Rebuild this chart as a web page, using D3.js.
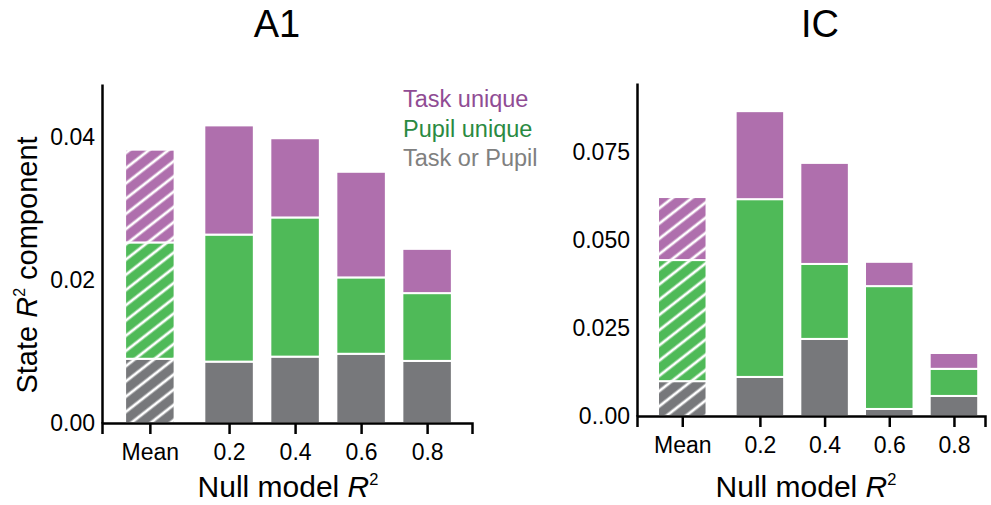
<!DOCTYPE html>
<html>
<head>
<meta charset="utf-8">
<script src="https://cdn.jsdelivr.net/npm/d3@7"></script>
<style>
  body { margin: 0; background: #ffffff; }
  text { font-family: "Liberation Sans", Arial, sans-serif; }
</style>
</head>
<body>
<script>
// categories and their positions on the null model R2 axis
const categories = ["Mean", "0.2", "0.4", "0.6", "0.8"];
const xPositions = [-0.04, 0.2, 0.4, 0.6, 0.8];
const seriesNames = ["Task or Pupil", "Pupil unique", "Task unique"];

// A1 components (bottom to top)
const a1Shared = [0.0090, 0.0086, 0.0093, 0.0097, 0.0087];
const a1Pupil = [0.0163, 0.0178, 0.0195, 0.0107, 0.0095];
const a1Task = [0.0130, 0.0153, 0.0111, 0.0148, 0.0062];

// IC components
const icShared = [0.0099, 0.0111, 0.0219, 0.0020, 0.0057];
const icPupil = [0.0344, 0.0505, 0.0213, 0.0349, 0.0077];
const icTask = [0.0179, 0.0250, 0.0287, 0.0069, 0.0045];

// y tick values and labels
const a1Ticks = [0, 0.02, 0.04];
const a1TickLabels = ["0.00", "0.02", "0.04"];
const icTicks = [0, 0.025, 0.05, 0.075];
const icTickLabels = ["0..00", "0.025", "0.050", "0.075"];

const colors = { "Task or Pupil": "#77787b", "Pupil unique": "#4fba58", "Task unique": "#af6fad" };
const textColors = { "Task or Pupil": "#808080", "Pupil unique": "#2a8a42", "Task unique": "#904c94" };

const width = 991;
const height = 505;
const svg = d3.select("body").append("svg").attr("width", width).attr("height", height);

// hatch patterns for the Mean bars
const defs = svg.append("defs");
seriesNames.forEach((s, i) => {
  const p = defs.append("pattern").attr("id", "hatch" + i).attr("patternUnits", "userSpaceOnUse")
    .attr("width", 12).attr("height", 12).attr("patternTransform", "rotate(-38)");
  p.append("rect").attr("width", 12).attr("height", 12).attr("fill", colors[s]);
  p.append("line").attr("x1", 0).attr("y1", 6).attr("x2", 12).attr("y2", 6)
    .attr("stroke", "#ffffff").attr("stroke-width", 2.8);
});

const sup = (sel, pre, post) => {
  sel.append("tspan").text(pre);
  sel.append("tspan").attr("font-style", "italic").text("R");
  sel.append("tspan").attr("font-size", "0.55em").attr("dy", "-0.75em").text("2");
  if (post) sel.append("tspan").attr("dy", "0.41em").text(post);
}

const drawPanel = (p) => {
  const x = d3.scaleLinear().domain(p.xDomain).range(p.xRange);
  const y = d3.scaleLinear().domain(p.yDomain).range(p.yRange);
  const rows = categories.map((c, i) => ({
    cat: c, pos: xPositions[i],
    "Task or Pupil": p.shared[i], "Pupil unique": p.pupil[i], "Task unique": p.task[i]
  }));
  const stacked = d3.stack().keys(seriesNames)(rows);
  const bw = 0.15;

  const g = svg.append("g");
  g.selectAll(".layer").data(stacked).enter().append("g").attr("class", "layer")
    .each(function(layer, li) {
      d3.select(this).selectAll("rect").data(layer).enter().append("rect")
        .attr("x", d => x(d.data.pos - bw / 2))
        .attr("width", d => x(d.data.pos + bw / 2) - x(d.data.pos - bw / 2))
        .attr("y", d => y(d[1]))
        .attr("height", d => y(d[0]) - y(d[1]))
        .attr("fill", d => d.data.cat === "Mean" ? "url(#hatch" + li + ")" : colors[layer.key])
        .attr("stroke", "#ffffff").attr("stroke-width", 2);
    });

  // axes
  const yAxis = g.append("g").attr("transform", "translate(" + p.xRange[0] + ",0)")
    .call(d3.axisLeft(y).tickValues(p.ticks).tickFormat((d, i) => p.tickLabels[i]).tickSize(0).tickPadding(7));
  const xAxis = g.append("g").attr("transform", "translate(0," + p.yRange[0] + ")")
    .call(d3.axisBottom(x).tickValues(xPositions).tickFormat((d, i) => categories[i]).tickSizeOuter(0).tickSize(11).tickPadding(10));
  [yAxis, xAxis].forEach(a => {
    a.select(".domain").attr("stroke", "#000").attr("stroke-width", 2.5);
    a.selectAll(".tick line").attr("stroke", "#000").attr("stroke-width", 2.5);
    a.selectAll("text").attr("font-size", 23).attr("fill", "#000")
      .attr("font-family", "Liberation Sans, Arial, sans-serif");
  });

  // title
  g.append("text").attr("x", p.titleX).attr("y", 37).attr("text-anchor", "middle")
    .attr("font-size", 38).text(p.title);

  // x axis label
  g.append("text").attr("x", p.xLabelX).attr("y", 497).attr("text-anchor", "middle")
    .attr("font-size", 30).call(sup, "Null model ");
}

drawPanel({
  title: "A1", titleX: 277, xLabelX: 288,
  xDomain: [-0.185, 0.936], xRange: [102, 472],
  yDomain: [0, 0.0475], yRange: [423, 84],
  shared: a1Shared, pupil: a1Pupil, task: a1Task,
  ticks: a1Ticks, tickLabels: a1TickLabels
});

drawPanel({
  title: "IC", titleX: 820, xLabelX: 806,
  xDomain: [-0.18, 0.896], xRange: [637, 985],
  yDomain: [0, 0.0946], yRange: [416, 83],
  shared: icShared, pupil: icPupil, task: icTask,
  ticks: icTicks, tickLabels: icTickLabels
});

// y axis label
svg.append("text").attr("transform", "translate(37,265) rotate(-90)").attr("text-anchor", "middle")
  .attr("font-size", 29).call(sup, "State ", " component");

// legend
const legend = svg.append("g").selectAll("text").data(seriesNames.slice().reverse()).enter().append("text")
  .attr("x", 403).attr("y", (d, i) => 107 + i * 29.5)
  .attr("font-size", 23.5).attr("fill", d => textColors[d]).text(d => d);
</script>
</body>
</html>
